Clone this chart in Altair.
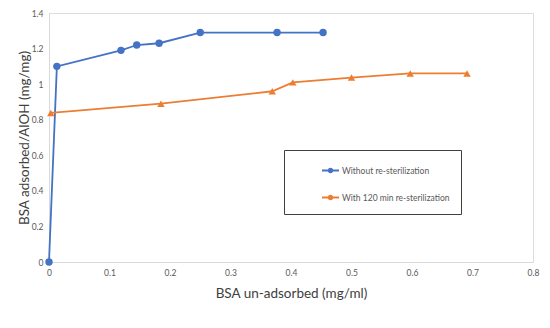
import altair as alt
import pandas as pd

series_names = ["Without re-sterilization", "With 120 min re-sterilization"]
blue_x = [0, 0.013, 0.119, 0.145, 0.182, 0.25, 0.377, 0.453]
blue_y = [0, 1.10, 1.19, 1.22, 1.23, 1.29, 1.29, 1.29]
orange_x = [0.003, 0.185, 0.369, 0.403, 0.50, 0.597, 0.691]
orange_y = [0.838, 0.89, 0.96, 1.01, 1.037, 1.06, 1.06]
x_ticks = [0, 0.1, 0.2, 0.3, 0.4, 0.5, 0.6, 0.7, 0.8]
y_ticks = [0, 0.2, 0.4, 0.6, 0.8, 1, 1.2, 1.4]
colors = ["#4472C4", "#ED7D31"]

rows = []
for i, (x, y) in enumerate(zip(blue_x, blue_y)):
    rows.append({"series": series_names[0], "x": x, "y": y, "order": i})
for i, (x, y) in enumerate(zip(orange_x, orange_y)):
    rows.append({"series": series_names[1], "x": x, "y": y, "order": i})
df = pd.DataFrame(rows)

W, H = 484, 249
FONT = "Lato"

xenc = alt.X("x:Q", scale=alt.Scale(domain=[0, 0.8], nice=False, zero=False),
             axis=alt.Axis(values=x_ticks, tickCount=20, format="~g", title="BSA un-adsorbed (mg/ml)",
                           grid=False, ticks=False, domainColor="#d9d9d9", labelColor="#595959",
                           labelFontSize=8.5, labelFont=FONT, labelPadding=6, labelOverlap=False,
                           titleFont=FONT, titleFontSize=13.5, titleFontWeight="normal",
                           titleColor="#404040", titlePadding=10, labelFlush=False))
yenc = alt.Y("y:Q", scale=alt.Scale(domain=[0, 1.4], nice=False, zero=False),
             axis=alt.Axis(values=y_ticks, tickCount=20, format="~g", title="BSA adsorbed/AlOH (mg/mg)",
                           grid=False, ticks=False, domainColor="#d9d9d9", labelColor="#595959",
                           labelFontSize=8.5, labelFont=FONT, labelPadding=6, labelOverlap=False,
                           titleFont=FONT, titleFontSize=13.5, titleFontWeight="normal",
                           titleColor="#404040", titleX=-25, titleY=H / 2, titleAngle=270,
                           titleBaseline="middle", titleAlign="center", labelFlush=False))

color = alt.Color("series:N", scale=alt.Scale(domain=series_names, range=colors),
                  legend=alt.Legend(title=None, orient="none", legendX=235, legendY=137,
                                    direction="vertical", padding=11, rowPadding=12,
                                    strokeColor="#404040", fillColor="white",
                                    symbolType="M-1,0L1,0M-0.22,0A0.22,0.22,0,1,0,0.22,0A0.22,0.22,0,1,0,-0.22,0Z",
                                    symbolSize=289, symbolStrokeWidth=1.8, symbolOffset=26,
                                    labelFont=FONT, labelFontSize=8.5, labelColor="#595959",
                                    labelOffset=2,
                                    labelExpr="datum.label + '\u00a0\u00a0\u00a0\u00a0\u00a0\u00a0\u00a0\u00a0\u00a0\u00a0\u00a0\u00a0\u00a0\u00a0'"))

lines = alt.Chart(df).mark_line(strokeWidth=1.8).encode(
    x=xenc, y=yenc, color=color, order="order:Q", detail="series:N")

points = alt.Chart(df).mark_point(filled=True, opacity=1, size=55).encode(
    x="x:Q", y="y:Q",
    color=alt.Color("series:N", legend=None),
    shape=alt.condition(alt.datum.series == series_names[0], alt.value("circle"), alt.value("triangle-up")),
)

chart = alt.layer(lines, points).properties(
    width=W, height=H,
    autosize=alt.AutoSizeParams(type="none"),
    padding={"left": 41, "top": 5, "right": 8, "bottom": 50},
).configure_view(stroke=None).configure(background="white")

chart.save("out.html", embed_options={"renderer": "svg", "actions": False})
